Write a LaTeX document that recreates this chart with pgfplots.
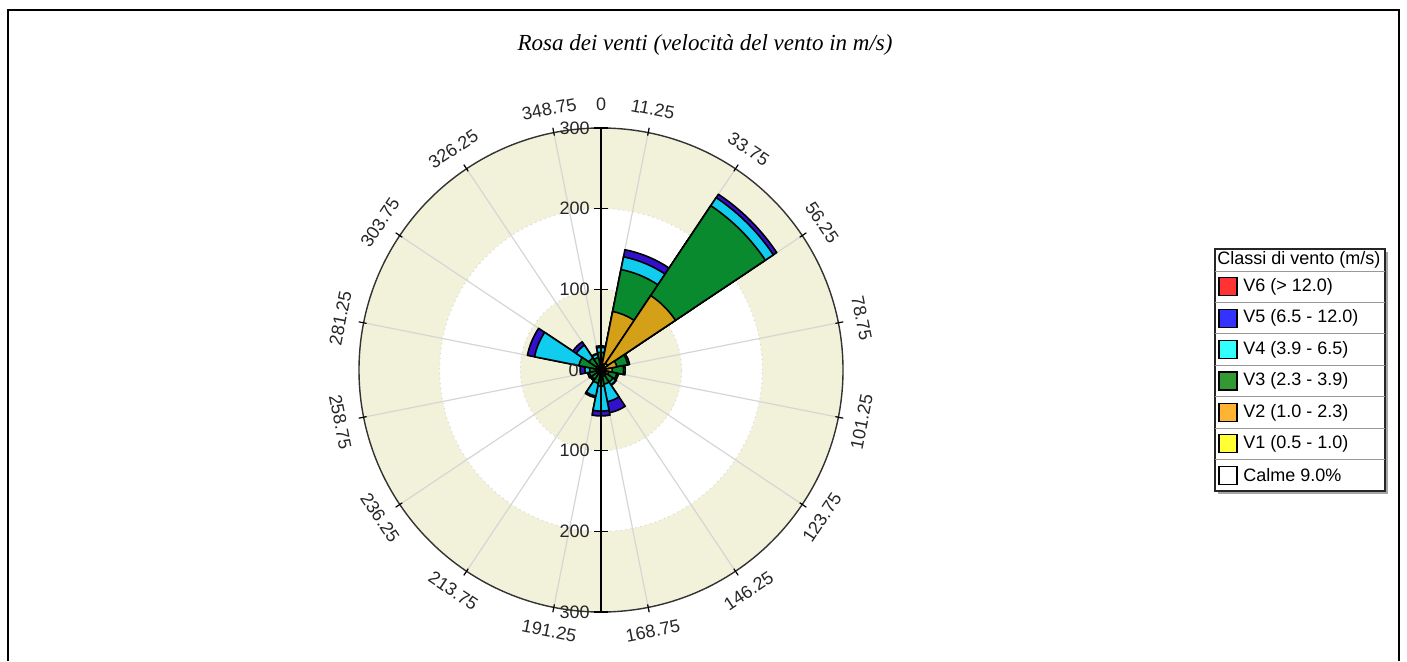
\documentclass[border=0pt]{standalone}
\usepackage{pgfplots}
\pgfplotsset{compat=1.18}
\usepackage{pgfplotstable}
\usepackage{fontspec}
\setmainfont{Liberation Sans}
\newfontfamily\titlefont{Liberation Serif}

\definecolor{bandbg}{HTML}{F2F1DA}
\definecolor{gridc}{HTML}{D6D6D6}
\definecolor{cV5}{HTML}{3310CC}
\definecolor{cV4}{HTML}{10CCEE}
\definecolor{cV3}{HTML}{0A8A2E}
\definecolor{cV2}{HTML}{D4A017}
\definecolor{cV1}{HTML}{FFF000}
\definecolor{lV6}{HTML}{FF3333}
\definecolor{lV5}{HTML}{3333FF}
\definecolor{lV4}{HTML}{33FFFF}
\definecolor{lV3}{HTML}{339933}
\definecolor{lV2}{HTML}{FFB333}
\definecolor{lV1}{HTML}{FFFF33}

\pgfdeclareplotmark{nothing}{}

% cumulative values per sector (V1 .. V5), compass angle of sector centre
\pgfplotstableread{
ang v1 v2 v3 v4 v5
0 3 10 22 28 30
22.5 8 74 127 143 152
45 10 111 245 257 262
67.5 6 20 34 36 36
90 4 14 28 30 30
112.5 3 10 20 22 22
135 2 8 18 22 23
157.5 2 8 18 40 54
180 2 8 20 51 57
202.5 2 6 17 33 35
225 1 4 14 16 16
247.5 1 4 15 17 17
270 1 5 14 20 26
292.5 2 6 28 84 93
315 2 6 18 37 42
337.5 2 6 16 20 21
}\rosedata

\pgfplotsset{
  wedge/.style 2 args={
    scatter, only marks, mark=nothing,
    visualization depends on={\thisrow{ang}\as\wAng},
    visualization depends on={\thisrow{#1}\as\wRad},
    scatter/@pre marker code/.append code={%
      \pgfkeys{/pgf/fpu=true}%
      \pgfmathparse{\wRad*0.403333}\pgfmathfloattofixed{\pgfmathresult}\let\wR\pgfmathresult
      \pgfmathparse{101.25-\wAng}\pgfmathfloattofixed{\pgfmathresult}\let\wS\pgfmathresult
      \pgfmathparse{270-\wAng}\pgfmathfloattofixed{\pgfmathresult}\let\wB\pgfmathresult
      \pgfkeys{/pgf/fpu=false}%
      \filldraw[fill=#2, draw=black, line width=0.8pt, line join=round]
        (\wB:\wR pt) -- ++(\wS:\wR pt) arc[start angle=\wS, delta angle=-22.5, radius=\wR pt] -- cycle;
    },
  },
}

\begin{document}
\begin{tikzpicture}[font=\fontsize{9pt}{10pt}\selectfont]
\useasboundingbox (0,0) rectangle (703.5pt,330.5pt);
% outer frame
\draw[black, line width=0.6pt] (4pt,0) -- (4pt,325.5pt) -- (699.5pt,325.5pt) -- (699.5pt,0);

% title
\node[anchor=base, inner sep=0pt] at (352.5pt,305.5pt) {\titlefont\itshape\fontsize{11.5pt}{13pt}\selectfont Rosa dei venti (velocità del vento in m/s)};

% polar background
\begin{scope}[shift={(300.5pt,145.5pt)}]
  \fill[bandbg] (0,0) circle[radius=121pt];
  \fill[white] (0,0) circle[radius=80.667pt];
  \fill[bandbg] (0,0) circle[radius=40.333pt];
  \draw[gridc, dotted, line width=0.5pt] (0,0) circle[radius=80.667pt];
  \draw[gridc, dotted, line width=0.5pt] (0,0) circle[radius=40.333pt];
  \foreach \a in {11.25,33.75,56.25,78.75,101.25,123.75,146.25,168.75,191.25,213.75,236.25,258.75,281.25,303.75,326.25,348.75}
    \draw[gridc, line width=0.6pt] (0,0) -- ({90-\a}:121pt);
  \draw[black!80, line width=0.7pt] (0,0) circle[radius=121pt];
  \foreach \a in {11.25,33.75,56.25,78.75,101.25,123.75,146.25,168.75,191.25,213.75,236.25,258.75,281.25,303.75,326.25,348.75}
    \draw[black, line width=0.6pt] ({90-\a}:119.5pt) -- ({90-\a}:123.5pt);
\end{scope}

\begin{axis}[at={(300.5pt,145.5pt)}, anchor=origin,
  x=0.403333pt, y=0.403333pt,
  xmin=-300, xmax=300, ymin=-300, ymax=300,
  hide axis, clip=false]
\addplot[wedge={v5}{cV5}] table[x expr={\thisrow{v5}*sin(\thisrow{ang})}, y expr={\thisrow{v5}*cos(\thisrow{ang})}] {\rosedata};
\addplot[wedge={v4}{cV4}] table[x expr={\thisrow{v4}*sin(\thisrow{ang})}, y expr={\thisrow{v4}*cos(\thisrow{ang})}] {\rosedata};
\addplot[wedge={v3}{cV3}] table[x expr={\thisrow{v3}*sin(\thisrow{ang})}, y expr={\thisrow{v3}*cos(\thisrow{ang})}] {\rosedata};
\addplot[wedge={v2}{cV2}] table[x expr={\thisrow{v2}*sin(\thisrow{ang})}, y expr={\thisrow{v2}*cos(\thisrow{ang})}] {\rosedata};
\addplot[wedge={v1}{cV1}] table[x expr={\thisrow{v1}*sin(\thisrow{ang})}, y expr={\thisrow{v1}*cos(\thisrow{ang})}] {\rosedata};
\end{axis}

% overlays: radial axis and labels
\begin{scope}[shift={(300.5pt,145.5pt)}, every node/.style={text=black!85, inner sep=1pt}]
  \draw[black, line width=0.8pt] (0,121pt) -- (0,-121pt);
  \foreach \r/\t in {40.333/100, 80.667/200, 121/300} {
    \draw[black, line width=0.6pt] (-3.5pt,\r pt) -- (3.5pt,\r pt);
    \draw[black, line width=0.6pt] (-3.5pt,-\r pt) -- (3.5pt,-\r pt);
    \node[anchor=east] at (-4.5pt,\r pt) {\t};
    \node[anchor=east] at (-4.5pt,-\r pt) {\t};
  }
  \node[anchor=east] at (-10pt,0) {0};
  \node[anchor=south] at (90:128.5pt) {0};
  \foreach \a in {11.25,33.75,56.25,78.75,281.25,303.75,326.25,348.75}
    \node[anchor=south, rotate=-\a] at ({90-\a}:128.5pt) {\a};
  \foreach \a in {101.25,123.75,146.25,168.75,191.25,213.75,236.25,258.75}
    \node[anchor=north, rotate=180-\a] at ({90-\a}:128.5pt) {\a};
\end{scope}

% legend
\fill[black!35] (609pt,83.5pt) rectangle (694pt,204.5pt);
\filldraw[fill=white, draw=black!85, line width=0.6pt] (607.5pt,85pt) rectangle (692.5pt,206pt);
\node[anchor=west, inner sep=0pt] at (608.5pt,200.5pt) {Classi di vento (m/s)};
\foreach \i/\c/\t in {0/lV6/{V6 (> 12.0)}, 1/lV5/{V5 (6.5 - 12.0)}, 2/lV4/{V4 (3.9 - 6.5)}, 3/lV3/{V3 (2.3 - 3.9)}, 4/lV2/{V2 (1.0 - 2.3)}, 5/lV1/{V1 (0.5 - 1.0)}, 6/white/{Calme 9.0\%}} {
  \pgfmathsetmacro\yt{195-15.714*\i}
  \pgfmathsetmacro\yc{\yt-7.857}
  \draw[black!40, line width=0.5pt] (607.5pt,\yt pt) -- (692.5pt,\yt pt);
  \filldraw[fill=\c, draw=black, line width=0.6pt] (609.5pt,\yc pt-4.5pt) rectangle (618.5pt,\yc pt+4.5pt);
  \node[anchor=west, inner sep=0pt] at (621.5pt,\yc pt) {\t};
}
\end{tikzpicture}
\end{document}
